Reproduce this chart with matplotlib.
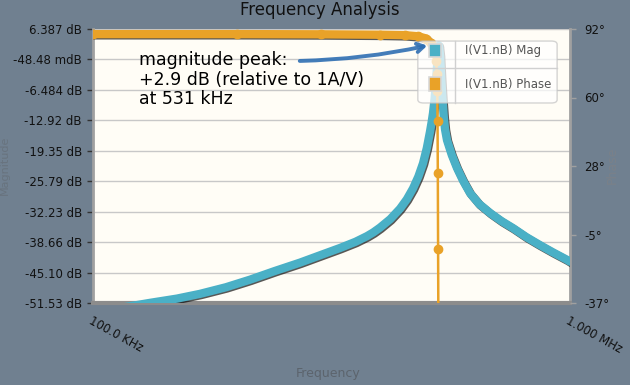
import matplotlib
matplotlib.use('Agg')
import matplotlib.pyplot as plt
import matplotlib.patheffects as pe
from matplotlib.patches import FancyBboxPatch, Rectangle
from matplotlib.ticker import NullLocator
import numpy as np

# magnitude trace (kHz, dB)
freq_mag_khz = [100, 115, 131.7, 150, 167.6, 190, 213.4, 240, 271.6, 300, 329.5, 355,
                375.3, 387, 399.6, 420, 440.2, 455, 468.8, 481, 491.9, 501, 508.8, 513,
                516.2, 520, 524, 528, 531, 534, 537, 540, 543.5, 547, 552.3, 565,
                579.6, 597, 617.2, 645, 679.8, 718, 759.5, 810, 865.3, 920, 985.6, 1000]
mag_db = [-53.6, -52.5, -51.5, -50.6, -49.6, -48.2, -46.6, -44.8, -43.0, -41.4, -39.9, -38.6,
          -37.4, -36.6, -35.6, -33.8, -31.6, -29.6, -27.3, -24.8, -22.0, -18.8, -15.3, -13.2,
          -11.4, -8.5, -4.5, 0.8, 2.9, 0.8, -4.0, -8.0, -12.0, -14.8, -17.1, -20.2,
          -23.0, -25.7, -28.3, -30.6, -32.5, -34.2, -35.7, -37.6, -39.3, -40.8, -42.4, -42.8]

# phase trace (kHz, degrees)
freq_ph_khz = [100, 200, 300, 400, 450, 480, 500, 510, 516, 521, 524, 526, 527,
               527.6, 528.3, 529, 530, 560, 1000]
phase_deg = [89.6, 89.6, 89.5, 89.3, 89.1, 88.6, 87.5, 85.5, 83, 80, 77, 71, 63,
             48.7, 24.2, -11.6, -60, -88, -89.5]

mag_ticks = [6.387, -0.04848, -6.484, -12.92, -19.35, -25.79, -32.23, -38.66, -45.10, -51.53]
mag_labels = ['6.387 dB', '-48.48 mdB', '-6.484 dB', '-12.92 dB', '-19.35 dB',
              '-25.79 dB', '-32.23 dB', '-38.66 dB', '-45.10 dB', '-51.53 dB']
phase_ticks = [92, 59.75, 27.5, -4.75, -37]
phase_labels = ['92°', '60°', '28°', '-5°', '-37°']
x_ticks_hz = [1e5, 1e6]
x_labels = ['100.0 KHz', '1.000 MHz']
series_names = ['I(V1.nB) Mag', 'I(V1.nB) Phase']

blue = '#4ab0c6'
orange = '#e9a228'
bg = '#708090'

fig = plt.figure(figsize=(6.3, 3.85), dpi=100, facecolor=bg)
ax = fig.add_axes([93/630, 82/385, 477/630, 274/385])
ax.set_facecolor('#fffdf6')

shadow = [pe.SimpleLineShadow(offset=(0.8, -0.9), shadow_color='k', alpha=0.65), pe.Normal()]

f_mag = np.array(freq_mag_khz) * 1e3
ax.plot(f_mag, mag_db, color=blue, lw=6, solid_joinstyle='round', solid_capstyle='round',
        path_effects=shadow, zorder=3)

ax.set_xscale('log')
ax.set_xlim(1e5, 1e6)
ax.set_ylim(mag_ticks[-1], mag_ticks[0])
ax.set_yticks(mag_ticks)
ax.set_yticklabels(mag_labels)
ax.xaxis.set_minor_locator(NullLocator())
ax.set_xticks(x_ticks_hz)
ax.set_xticklabels(x_labels, rotation=-29, ha='left', va='top', rotation_mode='anchor')
ax.grid(axis='y', color='#c8c8c8', lw=1)
ax.tick_params(axis='x', length=0, pad=8, labelsize=8.5, labelcolor='#111')
ax.tick_params(axis='y', length=4, width=1, color='#333', pad=4, labelsize=8.5, labelcolor='#111')
ax.spines['top'].set_visible(False)
ax.spines['left'].set_color('#a0a0a0')
ax.spines['left'].set_linewidth(2)
ax.spines['bottom'].set_color('#8c8c8c')
ax.spines['bottom'].set_linewidth(3)
ax.spines['right'].set_color('#a0a0a0')
ax.spines['right'].set_linewidth(2)

ax2 = ax.twinx()
f_ph = np.array(freq_ph_khz) * 1e3
ph = np.array(phase_deg)
flat = ph > 84
ax2.plot(f_ph[flat], ph[flat], color=orange, lw=6, solid_capstyle='round',
         solid_joinstyle='round', path_effects=shadow, zorder=3)
ax2.plot(f_ph, ph, color=orange, lw=1.8, marker='o', ms=6, zorder=4)
ax2.set_ylim(phase_ticks[-1], phase_ticks[0])
ax2.set_yticks(phase_ticks)
ax2.set_yticklabels(phase_labels)
ax2.tick_params(axis='y', length=4, width=1, color='#a0a0a0', pad=6, labelsize=8.5, labelcolor='#111')
for s in ax2.spines.values():
    s.set_visible(False)

# legend box, drawn by hand so it can be see-through like the original
tr = ax2.transAxes
ax2.add_patch(FancyBboxPatch((0.681, 0.730), 0.292, 0.226,
                             boxstyle='round,pad=0,rounding_size=0.012', transform=tr,
                             fc='white', ec='#c4c4c4', lw=1, alpha=0.72, zorder=10))
ax2.plot([0.759, 0.759], [0.730, 0.956], transform=tr, color='#d0d0d0', lw=1, zorder=11)
ax2.plot([0.681, 0.973], [0.8577, 0.8577], transform=tr, color='#d0d0d0', lw=1, zorder=11)
for i, (name, c) in enumerate(zip(series_names, [blue, orange])):
    yc = [0.920, 0.799][i]
    ax2.add_patch(Rectangle((0.717 - 0.0135, yc - 0.024), 0.027, 0.048, transform=tr,
                            fc=c, ec='#d8d8d8', lw=1.2, zorder=12))
    ax2.text(0.780, yc, name, transform=tr, va='center', ha='left', fontsize=8.5,
             color='#555555', zorder=12)

fig.text(320/630, 1 - 10/385, 'Frequency Analysis', ha='center', va='center',
         fontsize=12, color='#111')
fig.text(328/630, 1 - 373/385, 'Frequency', ha='center', va='center', fontsize=9, color='#5c646d')
fig.text(612/630, 1 - 165/385, 'Phase', ha='center', va='center', rotation=90,
         fontsize=9, color='#7a8189')
fig.text(5/630, 1 - 165/385, 'Magnitude', ha='center', va='center', rotation=90,
         fontsize=8, color='#68737e')

ax2.text(0.0964, 0.918, 'magnitude peak:\n+2.9 dB (relative to 1A/V)\nat 531 kHz',
         transform=tr, ha='left', va='top', fontsize=12.5, color='black',
         linespacing=1.1, zorder=13)
ax2.annotate('', xy=(430, 385 - 45), xytext=(297, 385 - 61),
             xycoords='figure pixels', textcoords='figure pixels',
             arrowprops=dict(arrowstyle='->,head_length=0.5,head_width=0.3', lw=2.8,
                             color='#2f6fb3', alpha=0.9,
                             connectionstyle='arc3,rad=0.05'), zorder=14)

fig.savefig('out.png', dpi=100, facecolor=bg)
